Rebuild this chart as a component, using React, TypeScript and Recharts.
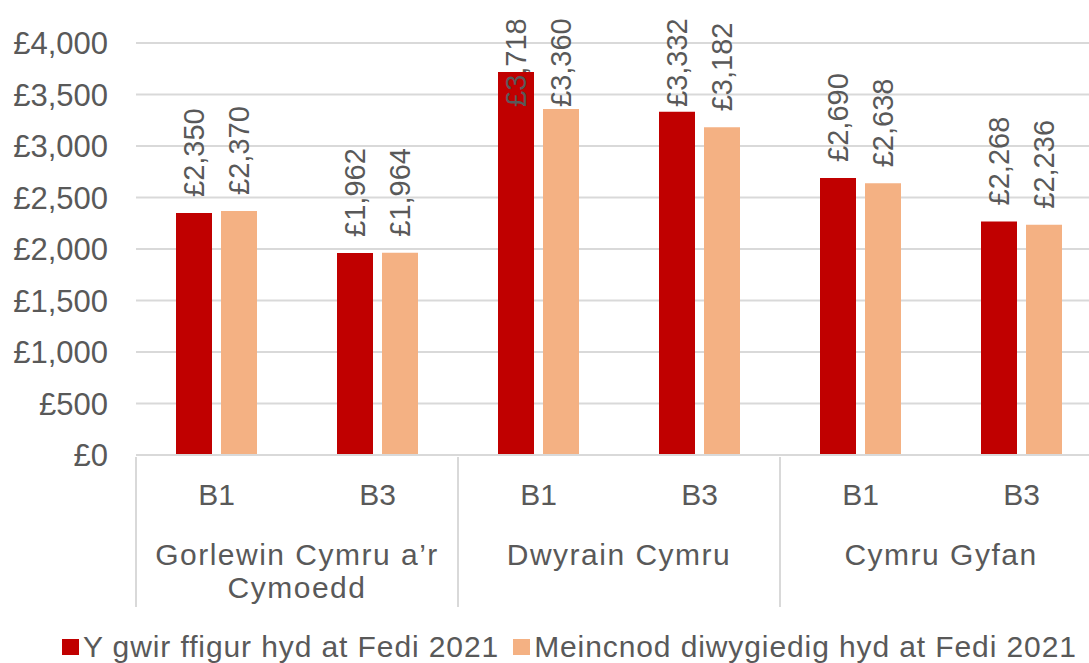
import React from "react";
import { BarChart, Bar, XAxis, YAxis, CartesianGrid, Legend, LabelList } from "recharts";

const groups = ["Gorlewin Cymru a’r\nCymoedd", "Dwyrain Cymru", "Cymru Gyfan"];
const bands = ["B1", "B3"];
const actual = [2350, 1962, 3718, 3332, 2690, 2268];
const benchmark = [2370, 1964, 3360, 3182, 2638, 2236];
const yTicks = [0, 500, 1000, 1500, 2000, 2500, 3000, 3500, 4000];

const seriesNames = ["Y gwir ffigur hyd at Fedi 2021", "Meincnod diwygiedig hyd at Fedi 2021"];
const colors = ["#C00000", "#F4B183"];

const data = actual.map((v, i) => ({
  sub: bands[i % 2] + "_" + i,
  group: groups[Math.floor(i / 2)],
  actual: v,
  benchmark: benchmark[i],
}));

const FONT = "'Liberation Sans', Arial, sans-serif";
const TEXT = "#595959";
const LINE = "#D9D9D9";

const money = (v: number) => "£" + String(v).replace(/\B(?=(\d{3})+(?!\d))/g, ",");

function SubTick(props: any) {
  const { x, y, payload, index } = props;
  const half = payload?.offset ?? 80.5;
  const label = String(payload.value).split("_")[0];
  return (
    <g>
      {index % 2 === 0 && (
        <line x1={x - half} x2={x - half} y1={y} y2={y + 150} stroke={LINE} strokeWidth={2} />
      )}
      <text x={x} y={y + 37} textAnchor="middle" dominantBaseline="central" fill={TEXT} fontSize={30} fontFamily={FONT}>
        {label}
      </text>
    </g>
  );
}

function GroupTick(props: any) {
  const { x, y, payload } = props;
  const lines = String(payload.value).split("\n");
  return (
    <text x={x} y={y} textAnchor="middle" fill={TEXT} fontSize={30} fontFamily={FONT} letterSpacing={1.5}>
      {lines.map((l, i) => (
        <tspan key={i} x={x} y={y + 37 + i * 33} dominantBaseline="central">
          {l}
        </tspan>
      ))}
    </text>
  );
}

function RotLabel(props: any) {
  const { x, y, width, value } = props;
  const cx = x + width / 2;
  const start = Math.max(y - 16, 107);
  return (
    <text
      x={cx}
      y={start}
      transform={`rotate(-90 ${cx} ${start})`}
      textAnchor="start"
      dominantBaseline="central"
      fill={TEXT}
      fontSize={29}
      fontFamily={FONT}
    >
      {money(value)}
    </text>
  );
}

function LegendContent() {
  return (
    <div
      style={{
        height: 58,
        boxSizing: "border-box",
        paddingTop: 26,
        paddingLeft: 62,
        display: "flex",
        alignItems: "center",
        fontFamily: FONT,
        fontSize: 30,
        letterSpacing: 0.9,
        lineHeight: "32px",
        color: TEXT,
        whiteSpace: "nowrap",
      }}
    >
      {seriesNames.map((n, i) => (
        <div key={n} style={{ display: "flex", alignItems: "center", marginRight: 14 }}>
          <span style={{ width: 17, height: 16, background: colors[i], marginRight: 4, display: "inline-block" }} />
          <span>{n}</span>
        </div>
      ))}
    </div>
  );
}

export default function App() {
  return (
    <div style={{ position: "absolute", left: 0, top: 0, width: 1089, height: 663, overflow: "hidden", background: "#fff" }}>
      <BarChart
        width={1102}
        height={663}
        data={data}
        margin={{ top: 43, right: 0, bottom: 0, left: 0 }}
        barSize={36}
        barGap={9}
      >
        <CartesianGrid vertical={false} stroke={LINE} strokeWidth={2} />
        <XAxis
          xAxisId="band"
          dataKey="sub"
          interval={0}
          height={60}
          tickSize={0}
          tickLine={false}
          axisLine={{ stroke: LINE, strokeWidth: 2 }}
          tick={<SubTick />}
        />
        <XAxis
          xAxisId="group"
          dataKey="group"
          allowDuplicatedCategory={false}
          interval={0}
          height={90}
          tickSize={0}
          tickLine={false}
          axisLine={false}
          tick={<GroupTick />}
        />
        <YAxis
          domain={[0, 4000]}
          ticks={yTicks}
          width={136}
          tickSize={0}
          tickMargin={28}
          tickLine={false}
          axisLine={false}
          tickFormatter={money}
          tick={{ fill: TEXT, fontSize: 31, fontFamily: FONT }}
        />
        <Legend verticalAlign="bottom" content={<LegendContent />} wrapperStyle={{ height: 58 }} />
        <Bar xAxisId="band" dataKey="actual" name={seriesNames[0]} fill={colors[0]} isAnimationActive={false}>
          <LabelList dataKey="actual" content={<RotLabel />} />
        </Bar>
        <Bar xAxisId="band" dataKey="benchmark" name={seriesNames[1]} fill={colors[1]} isAnimationActive={false}>
          <LabelList dataKey="benchmark" content={<RotLabel />} />
        </Bar>
      </BarChart>
    </div>
  );
}
